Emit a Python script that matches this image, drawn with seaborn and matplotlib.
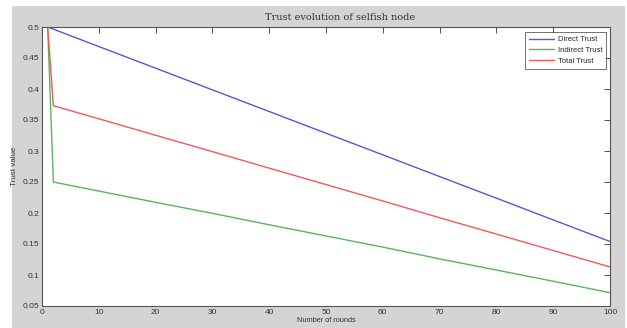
import numpy as np
import pandas as pd
import seaborn as sns
import matplotlib.pyplot as plt
from matplotlib.patches import Rectangle

# values
rounds = [1, 2, 10, 20, 30, 40, 50, 60, 70, 80, 90, 100]
direct_trust = [0.5, 0.4965, 0.4685, 0.4336, 0.3986, 0.3637, 0.3287, 0.2938, 0.2588, 0.2239, 0.1889, 0.154]
indirect_trust = [0.5, 0.25, 0.2354, 0.2172, 0.1995, 0.181, 0.163, 0.145, 0.126, 0.108, 0.090, 0.0715]
total_trust = [0.5, 0.373, 0.352, 0.3254, 0.299, 0.2724, 0.2459, 0.2194, 0.1924, 0.166, 0.1395, 0.113]

series_names = ["Direct Trust", "Indirect Trust", "Total Trust"]
line_colors = ["#5858d0", "#5cb45c", "#e85c5c"]

df = pd.DataFrame({
    "round": rounds * 3,
    "value": direct_trust + indirect_trust + total_trust,
    "series": [n for n in series_names for _ in rounds],
})

sns.set_style("white")
plt.rcParams["font.family"] = ["Liberation Sans", "DejaVu Sans"]

fig = plt.figure(figsize=(6.27, 3.28), dpi=100, facecolor="white")
# matlab style gray figure panel, drawn behind the axes
fig.add_artist(Rectangle((12 / 627, 0), 613 / 627, 322 / 328,
                         transform=fig.transFigure, facecolor="#d4d4d4",
                         edgecolor="none", zorder=-5))
ax = fig.add_axes([42 / 627, 22 / 328, 568 / 627, 279 / 328])
ax.set_facecolor("white")

sns.lineplot(data=df, x="round", y="value", hue="series", palette=line_colors,
             linewidth=1.0, ax=ax)

ax.set_xlim(0, 100)
ax.set_ylim(0.05, 0.5)
ax.set_xticks(np.arange(0, 101, 10))
ax.set_yticks([0.05, 0.1, 0.15, 0.2, 0.25, 0.3, 0.35, 0.4, 0.45, 0.5])
ax.set_yticklabels(["0.05", "0.1", "0.15", "0.2", "0.25", "0.3", "0.35", "0.4", "0.45", "0.5"])
ax.tick_params(direction="in", length=4, width=0.6, labelsize=6, colors="#333333",
               top=True, right=True, pad=2)
for s in ax.spines.values():
    s.set_color("#555555")
    s.set_linewidth(0.8)

ax.set_xlabel("Number of rounds", fontsize=5.3, color="#333333", labelpad=1)
ax.set_ylabel("Trust value", fontsize=5.8, color="#333333", labelpad=3)
# title sits a bit right of the axes centre in the original
ax.text(0.524, 1.018, "Trust evolution of selfish node", transform=ax.transAxes,
        ha="center", va="bottom", fontsize=7, family="serif", color="#333333")

leg = ax.legend(loc="upper right", fontsize=5.5, frameon=True, fancybox=False,
                handlelength=3.3, handletextpad=0.5, borderpad=0.5, labelspacing=0.45,
                bbox_to_anchor=(0.993, 0.982), borderaxespad=0)
leg.get_frame().set_edgecolor("#333333")
leg.get_frame().set_linewidth(0.6)
leg.set_title(None)

fig.savefig("out.png", dpi=100, facecolor=fig.get_facecolor())
